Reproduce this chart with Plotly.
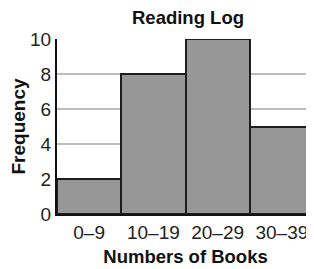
import plotly.graph_objects as go

categories = ["0–9", "10–19", "20–29", "30–39"]
frequency = [2, 8, 10, 5]
y_ticks = [0, 2, 4, 6, 8, 10]

FONT = "Liberation Sans, Arial, sans-serif"

# The page body has an 8px margin, so the figure is sized/offset to compensate.
W, H = 306, 261

fig = go.Figure(go.Bar(
    x=categories, y=frequency,
    marker=dict(color="#979797", line=dict(color="#1e1e1e", width=2)),
))

fig.update_layout(
    width=W, height=H,
    margin=dict(l=49, r=0, t=31, b=55),
    paper_bgcolor="white", plot_bgcolor="white",
    bargap=0,
    showlegend=False,
    title=dict(text="<b>Reading Log</b>", x=180 / W, xanchor="center", y=1 - 10 / H, yanchor="middle",
               font=dict(family=FONT, size=18.5, color="#111")),
    font=dict(family=FONT, color="#111"),
)
fig.update_xaxes(
    type="category", automargin=False,
    tickfont=dict(size=19, color="#222"),
    showline=True, linecolor="#111", linewidth=2,
    ticks="", showgrid=False,
    title=dict(text="<b>Numbers of Books</b>", font=dict(size=18.5, color="#111"), standoff=8),
)
fig.update_yaxes(
    range=[0, 10], tickvals=y_ticks, automargin=False,
    tickfont=dict(size=19, color="#222"),
    showline=True, linecolor="#111", linewidth=2,
    showgrid=True, gridcolor="#bdbdbd", gridwidth=1.5,
    ticks="", zeroline=False,
    title=dict(text="<b>Frequency</b>", font=dict(size=19, color="#111"), standoff=6),
)

fig.write_html("out.html")
